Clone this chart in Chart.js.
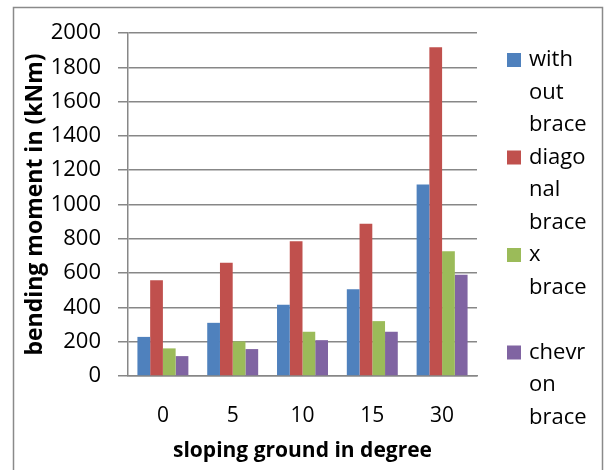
<!DOCTYPE html>
<html>
<head>
<meta charset="utf-8">
<script src="https://cdn.jsdelivr.net/npm/chart.js@4"></script>
<style>
  html, body { margin: 0; padding: 0; background: #fff; }
  #wrap { position: relative; width: 607px; height: 470px; }
</style>
</head>
<body>
<div id="wrap"><canvas id="bmChart" width="607" height="470"></canvas></div>
<script>
// slope angles (degree)
const slopes = ['0', '5', '10', '15', '30'];

// bending moment (kNm) per bracing type
const withoutBrace = [228, 310, 415, 506, 1116];
const diagonalBrace = [558, 661, 785, 888, 1917];
const xBrace = [161, 202, 258, 320, 727];
const chevronBrace = [116, 157, 209, 258, 591];

const seriesNames = ['with out brace', 'diagonal brace', 'x brace', 'chevron brace'];
// legend text as it wraps in the original
const legendLines = [
  ['with', 'out', 'brace'],
  ['diago', 'nal', 'brace'],
  ['x', 'brace', ''],
  ['chevr', 'on', 'brace']
];
const yTicks = [0, 200, 400, 600, 800, 1000, 1200, 1400, 1600, 1800, 2000];

const colors = ['#4F81BD', '#C0504D', '#9BBB59', '#8064A2'];
const FONT = '"Open Sans", sans-serif';
const gridGray = '#878787';

// outer frame around the chart object
const framePlugin = {
  id: 'frame',
  beforeDraw(chart) {
    const ctx = chart.ctx;
    ctx.save();
    ctx.fillStyle = '#fff';
    ctx.fillRect(0, 0, chart.width, chart.height);
    ctx.strokeStyle = '#8a8a8a';
    ctx.lineWidth = 1.5;
    ctx.strokeRect(13.5, 7.5, 589, 480);
    ctx.restore();
  }
};

// legend with wrapped labels, drawn on the right
const wrapLegend = {
  id: 'wrapLegend',
  afterDraw(chart) {
    const ctx = chart.ctx;
    const lineH = 32.5;
    const boxX = 507, textX = 529;
    let y = 60;
    ctx.save();
    ctx.font = '22px ' + FONT;
    ctx.textBaseline = 'middle';
    chart.data.datasets.forEach((ds, i) => {
      ctx.fillStyle = ds.backgroundColor;
      ctx.fillRect(boxX, y - 7, 14, 14);
      ctx.fillStyle = '#000';
      legendLines[i].forEach((t, j) => {
        ctx.fillText(t, textX, y + j * lineH);
      });
      y += lineH * 3;
    });
    ctx.restore();
  }
};

const datasets = [withoutBrace, diagonalBrace, xBrace, chevronBrace].map((vals, i) => ({
  label: seriesNames[i],
  data: vals,
  backgroundColor: colors[i],
  borderWidth: 0,
  barPercentage: 1.0,
  categoryPercentage: 0.73
}));

new Chart(document.getElementById('bmChart'), {
  type: 'bar',
  data: { labels: slopes, datasets: datasets },
  options: {
    responsive: false,
    animation: false,
    devicePixelRatio: 1,
    layout: { padding: { left: 22, right: 130, top: 33, bottom: 6 } },
    plugins: {
      legend: { display: false },
      tooltip: { enabled: false }
    },
    scales: {
      x: {
        grid: { display: false },
        border: { display: true, color: gridGray, width: 1.5 },
        ticks: { color: '#000', font: { family: FONT, size: 21 }, padding: 19 },
        title: {
          display: true,
          text: 'sloping ground in degree',
          color: '#000',
          font: { family: FONT, size: 21, weight: 'bold' },
          padding: { top: 8, bottom: 0 }
        },
        afterFit(scale) { scale.height = 470 - 376 - 6; }
      },
      y: {
        min: 0,
        max: 2000,
        afterBuildTicks(scale) { scale.ticks = yTicks.map(v => ({ value: v })); },
        grid: { color: gridGray, lineWidth: 1.5, tickLength: 10 },
        border: { display: true, color: gridGray, width: 1.5 },
        ticks: {
          color: '#000',
          font: { family: FONT, size: 22 },
          padding: 17,
          callback: v => String(v)
        },
        title: {
          display: true,
          text: 'bending moment in (kNm)',
          color: '#000',
          font: { family: FONT, size: 23, weight: 'bold' },
          padding: 0
        },
        afterFit(scale) { scale.width = 128 - 22; }
      }
    }
  },
  plugins: [framePlugin, wrapLegend]
});
</script>
</body>
</html>
